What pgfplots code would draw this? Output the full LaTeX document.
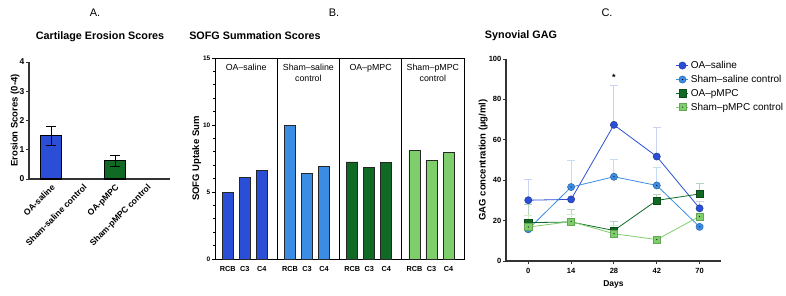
\documentclass[border=0pt]{standalone}
\usepackage{fontspec}
\setmainfont{Liberation Sans}
\usepackage{pgfplots}
\pgfplotsset{compat=1.18}
\definecolor{oablue}{HTML}{2A4FD6}
\definecolor{shblue}{HTML}{3A8CE4}
\definecolor{oagreen}{HTML}{106A23}
\definecolor{shgreen}{HTML}{7ECE6B}
\definecolor{axgray}{HTML}{333333}
\pgfdeclareplotmark{dotcircle}{%
  \pgfpathcircle{\pgfpoint{0pt}{0pt}}{\pgfplotmarksize}\pgfusepathqfillstroke
  \begin{pgfscope}\pgfsetfillcolor{black}\pgfpathcircle{\pgfpoint{0pt}{0pt}}{0.6pt}\pgfusepathqfill\end{pgfscope}}
\pgfdeclareplotmark{dotsquare}{%
  \pgfpathrectangle{\pgfpoint{-\pgfplotmarksize}{-\pgfplotmarksize}}{\pgfpoint{2\pgfplotmarksize}{2\pgfplotmarksize}}\pgfusepathqfillstroke
  \begin{pgfscope}\pgfsetfillcolor{black}\pgfpathcircle{\pgfpoint{0pt}{0pt}}{0.6pt}\pgfusepathqfill\end{pgfscope}}
\newcommand{\tk}[1]{\fontsize{#1}{#1}\selectfont\bfseries}
\begin{document}
\begin{tikzpicture}
\path (0pt,0pt) rectangle (786pt,295pt);
% titles
\node[font=\fontsize{11}{12}\selectfont] at (95pt,282pt) {A.};
\node[font=\fontsize{10.8}{12}\selectfont\bfseries] at (100pt,258pt) {Cartilage Erosion Scores};
\node[font=\fontsize{11}{12}\selectfont] at (334pt,282pt) {B.};
\node[font=\fontsize{10.8}{12}\selectfont\bfseries] at (255pt,259pt) {SOFG Summation Scores};
\node[font=\fontsize{11}{12}\selectfont] at (607pt,282pt) {C.};
\node[font=\fontsize{10.8}{12}\selectfont\bfseries] at (521pt,259pt) {Synovial GAG};

% Panel A
\begin{axis}[at={(29pt,116pt)}, anchor=south west, scale only axis,
  width=141pt, height=117pt,
  axis lines=left, axis line style={-, line width=1.3pt, axgray},
  xmin=-0.69, xmax=3.72, ymin=0, ymax=4,
  ytick={0,1,2,3,4}, xtick={0,1,2,3},
  xticklabels={OA-saline, Sham-saline control, OA-pMPC, Sham-pMPC control},
  xticklabel style={rotate=45, anchor=north east, font=\tk{8.6}, inner sep=1pt},
  x tick style={draw=none},
  y tick style={line width=1pt, axgray},
  tick align=outside, major tick length=3pt,
  /pgf/number format/assume math mode=true,
  yticklabel style={font=\tk{8.5}, inner sep=1.5pt},
  ylabel={Erosion Scores (0-4)}, ylabel style={font=\tk{9.5}},
  ylabel shift=-5pt,
  clip=false]
\addplot[ybar, bar width=0.64, bar shift=0pt, fill=oablue, draw=black, line width=1.1pt,
  error bars/.cd, y dir=both, y explicit,
  error bar style={line width=0.7pt, black},
  error mark options={rotate=90, mark size=5pt, line width=0.7pt, black}]
  coordinates {(0,1.48) +- (0,0.33)};
\addplot[ybar, bar width=0.64, bar shift=0pt, fill=oagreen, draw=black, line width=1.1pt,
  error bars/.cd, y dir=both, y explicit,
  error bar style={line width=0.7pt, black},
  error mark options={rotate=90, mark size=5pt, line width=0.7pt, black}]
  coordinates {(2,0.62) +- (0,0.18)};
\end{axis}

% Panel B
\begin{axis}[at={(215pt,36pt)}, anchor=south west, scale only axis,
  width=249pt, height=201pt,
  axis line style={line width=0.9pt, black},
  xmin=0, xmax=14.64, ymin=0, ymax=15,
  ytick={0,5,10,15}, minor y tick num=4,
  xtick={0.75,1.75,2.75,4.41,5.41,6.41,8.07,9.07,10.07,11.73,12.73,13.73},
  xticklabels={RCB,C3,C4,RCB,C3,C4,RCB,C3,C4,RCB,C3,C4},
  xticklabel style={font=\tk{7.3}, yshift=-1pt},
  x tick style={draw=none},
  ytick pos=left,
  y tick style={line width=0.8pt, black},
  tick align=outside, major tick length=3pt, minor tick length=2pt,
  /pgf/number format/assume math mode=true,
  yticklabel style={font=\tk{6.5}, inner sep=1.5pt},
  ylabel={SOFG Uptake Sum}, ylabel style={font=\tk{9.5}},
  ylabel shift=-3pt,
  clip=false]
\draw[line width=0.8pt] (axis cs:3.66,0) -- (axis cs:3.66,15);
\draw[line width=0.8pt] (axis cs:7.32,0) -- (axis cs:7.32,15);
\draw[line width=0.8pt] (axis cs:10.98,0) -- (axis cs:10.98,15);
\addplot[ybar, bar width=0.65, bar shift=0pt, fill=oablue, draw=black!85, line width=0.9pt]
  coordinates {(0.75,5.0) (1.75,6.1) (2.75,6.6)};
\addplot[ybar, bar width=0.65, bar shift=0pt, fill=shblue, draw=black!85, line width=0.9pt]
  coordinates {(4.41,10.0) (5.41,6.35) (6.41,6.9)};
\addplot[ybar, bar width=0.65, bar shift=0pt, fill=oagreen, draw=black!85, line width=0.9pt]
  coordinates {(8.07,7.24) (9.07,6.83) (10.07,7.21)};
\addplot[ybar, bar width=0.65, bar shift=0pt, fill=shgreen, draw=black!85, line width=0.9pt]
  coordinates {(11.73,8.08) (12.73,7.34) (13.73,7.94)};
\node[anchor=north, align=center, font=\fontsize{8.8}{10.5}\selectfont] at (axis cs:1.83,14.8) {OA--saline};
\node[anchor=north, align=center, font=\fontsize{8.8}{10.5}\selectfont] at (axis cs:5.49,14.8) {Sham--saline\\control};
\node[anchor=north, align=center, font=\fontsize{8.8}{10.5}\selectfont] at (axis cs:9.15,14.8) {OA--pMPC};
\node[anchor=north, align=center, font=\fontsize{8.8}{10.5}\selectfont] at (axis cs:12.81,14.8) {Sham--pMPC\\control};
\end{axis}

% Panel C
\begin{axis}[at={(506pt,34pt)}, anchor=south west, scale only axis,
  width=215pt, height=202pt,
  axis lines=left, axis line style={-, line width=1.3pt, axgray},
  xmin=-0.52, xmax=4.5, ymin=0, ymax=100,
  ytick={0,20,40,60,80,100}, xtick={0,1,2,3,4},
  xticklabels={0,14,28,42,70},
  tick style={line width=1pt, axgray},
  tick align=outside, major tick length=3pt,
  /pgf/number format/assume math mode=true,
  ticklabel style={font=\tk{7.5}, inner sep=1.5pt},
  xticklabel style={yshift=-2.5pt},
  xlabel={Days}, xlabel style={font=\tk{8.5}},
  xlabel shift=2pt,
  ylabel={GAG concentration (µg/ml)}, ylabel style={font=\tk{9.5}},
  ylabel shift=-4pt,
  legend style={at={(0.79,1.0)}, anchor=north west, draw=none, fill=none,
    font=\fontsize{10}{11}\selectfont, row sep=1.2pt, inner sep=0pt},
  legend cell align=left,
  legend image code/.code={\draw[mark repeat=2,mark phase=2] plot coordinates {(0pt,0pt) (6pt,0pt) (12pt,0pt)};},
  clip=false]
\addplot[oablue, line width=0.8pt, mark=*, mark size=3.6pt,
  mark options={fill=oablue, draw=oablue!70!black, line width=0.5pt},
  error bars/.cd, y dir=plus, y explicit,
  error bar style={oablue!25, line width=0.9pt},
  error mark options={rotate=90, mark size=4pt, oablue!25, line width=0.9pt}]
  coordinates {(0,30.1) +- (0,10.2) (1,30.5) +- (0,0.5) (2,67.4) +- (0,19.4) (3,51.7) +- (0,14.6) (4,26.1) +- (0,3.3)};
\addlegendentry{OA--saline}
\addplot[shblue, line width=0.8pt, mark=dotcircle, mark size=3.6pt,
  mark options={fill=shblue, draw=shblue!70!black, line width=0.5pt},
  error bars/.cd, y dir=plus, y explicit,
  error bar style={shblue!30, line width=0.9pt},
  error mark options={rotate=90, mark size=4pt, shblue!30, line width=0.9pt}]
  coordinates {(0,15.7) +- (0,0.5) (1,36.6) +- (0,13.2) (2,41.7) +- (0,8.8) (3,37.4) +- (0,9.1) (4,16.9) +- (0,0.5)};
\addlegendentry{Sham--saline control}
\addplot[oagreen, line width=0.8pt, mark=square*, mark size=3.6pt,
  mark options={fill=oagreen, draw=oagreen!70!black, line width=0.5pt},
  error bars/.cd, y dir=plus, y explicit,
  error bar style={oagreen!30, line width=0.9pt},
  error mark options={rotate=90, mark size=4pt, oagreen!30, line width=0.9pt}]
  coordinates {(0,19.0) +- (0,9.2) (1,19.3) +- (0,6.3) (2,15.1) +- (0,4.4) (3,30.0) +- (0,3.0) (4,33.2) +- (0,5.1)};
\addlegendentry{OA--pMPC}
\addplot[shgreen, line width=0.8pt, mark=dotsquare, mark size=3.6pt,
  mark options={fill=shgreen, draw=shgreen!80!black, line width=0.5pt},
  error bars/.cd, y dir=plus, y explicit,
  error bar style={shgreen!35, line width=0.9pt},
  error mark options={rotate=90, mark size=4pt, shgreen!35, line width=0.9pt}]
  coordinates {(0,16.8) +- (0,5.6) (1,19.5) +- (0,3.6) (2,13.5) +- (0,4.0) (3,10.6) +- (0,1.2) (4,22.1) +- (0,1.4)};
\addlegendentry{Sham--pMPC control}
\node[font=\tk{9}] at (axis cs:2,91) {*};
\end{axis}
\end{tikzpicture}
\end{document}
